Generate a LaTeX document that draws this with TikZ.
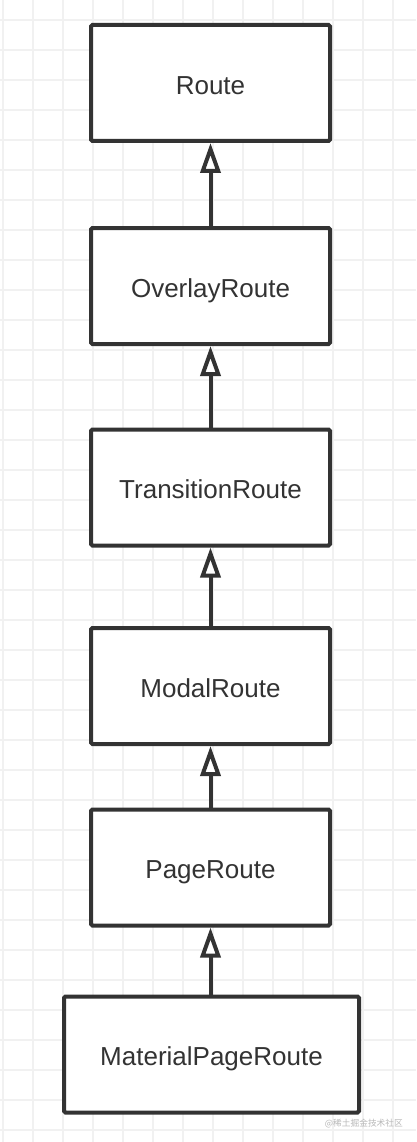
\documentclass[tikz,border=0pt]{standalone}
\usepackage{fontspec}
\setmainfont{Liberation Sans}
\newfontfamily\cjk{Noto Sans CJK SC}
\usetikzlibrary{arrows.meta}
\definecolor{ink}{HTML}{333333}
\definecolor{gridc}{HTML}{F1F1F1}
\definecolor{wmc}{HTML}{B8B8B8}
\begin{document}
\begin{tikzpicture}[x=1pt,y=-1pt,
  box/.style={draw=ink, line width=4pt, fill=white, rounded corners=1.5pt,
    minimum width=239pt, minimum height=116pt, inner sep=0pt, text=ink,
    text height=22.6pt, text depth=0pt,
    font=\fontsize{26}{30}\selectfont},
  inherit/.style={draw=ink, line width=4pt,
    -{Triangle[open, length=30pt, width=20pt, fill=white]}},
  gridline/.style={draw=gridc, line width=1.3pt}]
\fill[white] (0,0) rectangle (416,1142);
\useasboundingbox (0,0) rectangle (416,1142);
\foreach \i in {0,...,13} \draw[gridline] (3+30*\i,0) -- (3+30*\i,1142);
\foreach \j in {0,...,37} \draw[gridline] (0,20+30*\j) -- (416,20+30*\j);
\node[box] (b1) at (210.5,83) {Route};
\node[box] (b2) at (210.5,286) {OverlayRoute};
\node[box] (b3) at (210.5,487.5) {TransitionRoute};
\node[box] (b4) at (210.5,686) {ModalRoute};
\node[box] (b5) at (210.5,867.5) {PageRoute};
\node[box, minimum width=295pt] (b6) at (211.5,1054.5) {MaterialPageRoute};
\draw[inherit] (b2.north) -- (b1.south);
\draw[inherit] (b3.north) -- (b2.south);
\draw[inherit] (b4.north) -- (b3.south);
\draw[inherit] (b5.north) -- (b4.south);
\draw[inherit] (b5.south |- b6.north) -- (b5.south);
\node[anchor=east, text=wmc, font=\cjk\fontsize{8.7}{10}\selectfont, inner sep=0pt] (wm) at (403,1124) {@稀土掘金技术社区};
\end{tikzpicture}
\end{document}
